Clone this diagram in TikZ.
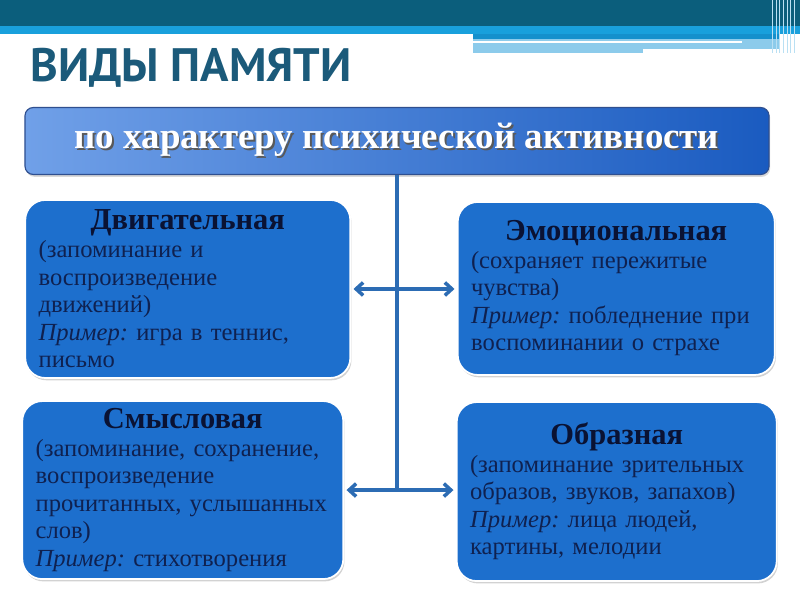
\documentclass[tikz,border=0pt]{standalone}
\usepackage{fontspec}
\setmainfont{Liberation Serif}
\newfontfamily\titlefont{PT Sans}
\usepackage{xcolor}
\usepackage{tikz}
\usetikzlibrary{arrows.meta,positioning,shadows}

\definecolor{barteal}{HTML}{0B5E7C}
\definecolor{barsky}{HTML}{19A0DC}
\definecolor{barmid}{HTML}{1590CC}
\definecolor{barpale}{HTML}{8CCBEB}
\definecolor{titleteal}{HTML}{1B5A7A}
\definecolor{bannerlight}{HTML}{70A0E8}
\definecolor{bannerdark}{HTML}{1A5BC0}
\definecolor{bannerrim}{HTML}{2F4F8F}
\definecolor{boxblue}{HTML}{1D6FCD}
\definecolor{bodynavy}{HTML}{0F2150}
\definecolor{headnavy}{HTML}{0A1233}
\definecolor{arrowblue}{HTML}{2C6CB4}

\newcommand\castshadow[1]{\makebox[0pt][l]{\hspace{1.5pt}\raisebox{-1.5pt}{\color{black!65}#1}}#1}
\newcommand\kindhead[1]{{\centering\fontsize{26}{23.5}\selectfont\bfseries\color{headnavy}#1\par}\raggedright\frenchspacing}

\begin{document}
\begin{tikzpicture}[x=0.03cm,y=-0.03cm,>={Straight Barb[length=6pt,width=11pt]},semithick,
	banner/.style={rectangle,rounded corners=0.25cm,draw=bannerrim,line width=1pt,
		left color=bannerlight,right color=bannerdark,minimum width=22.32cm,minimum height=2.01cm,
		text=white,font=\fontsize{31.5}{31.5}\selectfont\bfseries,
		drop shadow={opacity=0.3,shadow xshift=1pt,shadow yshift=-2pt}},
	memory/.style={rectangle,rounded corners=0.6cm,draw=white,line width=1.5pt,fill=boxblue,
		text=bodynavy,inner xsep=0.4cm,inner ysep=0pt,font=\fontsize{21}{23.5}\selectfont,
		drop shadow={opacity=0.35,shadow xshift=1pt,shadow yshift=-2pt}},
	link/.style={<->,draw=arrowblue,line width=3pt}]
	
	\useasboundingbox (0,0) rectangle (800,600);
	\fill[white] (0,0) rectangle (800,600);
	\fill[barteal] (0,0) rectangle (800,26);
	\fill[barsky] (0,26) rectangle (800,34);
	\fill[barmid] (473,34) rectangle (780,39);
	\fill[barpale] (473,39) rectangle (780,49);
	\fill[white] (473,41) rectangle (742,43);
	\fill[barpale] (473,49) rectangle (643,53);
	\foreach \x in {772,776,779,783,787,790,794}
		\draw[barpale!60!white,line width=0.6pt] (\x,0) -- (\x,53);
	
	\node[anchor=base west,inner sep=0,text=titleteal,font=\titlefont\bfseries\fontsize{40}{40}\selectfont]
		(heading) at (30,82) {ВИДЫ ПАМЯТИ};
	\node[banner] (kind) at (397,141) {\castshadow{по характеру психической активности}};
	
	\node[memory,text width=8.95cm,minimum height=5.34cm] (motor)
		[below=0.72cm of kind.south west,anchor=north west]
		{\kindhead{Двигательная}(запоминание и\\воспроизведение\\движений)\\\textit{Пример:} игра в теннис,\\письмо};
	\node[memory,text width=8.71cm,minimum height=5.19cm] (emotion)
		[below=0.78cm of kind.south east,anchor=north east,xshift=0.18cm]
		{\kindhead{Эмоциональная}(сохраняет пережитые\\чувства)\\\textit{Пример:} побледнение при\\воспоминании о страхе};
	\node[memory,text width=8.83cm,minimum height=5.34cm] (sense)
		[below=0.64cm of motor.south west,anchor=north west,xshift=-0.09cm]
		{\kindhead{Смысловая}(запоминание, сохранение,\\воспроизведение\\прочитанных, услышанных\\слов)\\\textit{Пример:} стихотворения};
	\node[memory,text width=8.8cm,minimum height=5.37cm] (image)
		[below=0.76cm of emotion.south east,anchor=north east,xshift=0.06cm]
		{\kindhead{Образная}(запоминание зрительных\\образов, звуков, запахов)\\\textit{Пример:} лица людей,\\картины, мелодии};
	
	\path (kind) edge[draw=arrowblue,line width=3pt] (kind.south |- sense.east)
	      (motor) edge[link,shorten >=2pt,shorten <=2pt] (motor.east -| emotion.west)
	      (sense) edge[link,shorten >=2pt,shorten <=2pt] (sense.east -| image.west);
\end{tikzpicture}
\end{document}
